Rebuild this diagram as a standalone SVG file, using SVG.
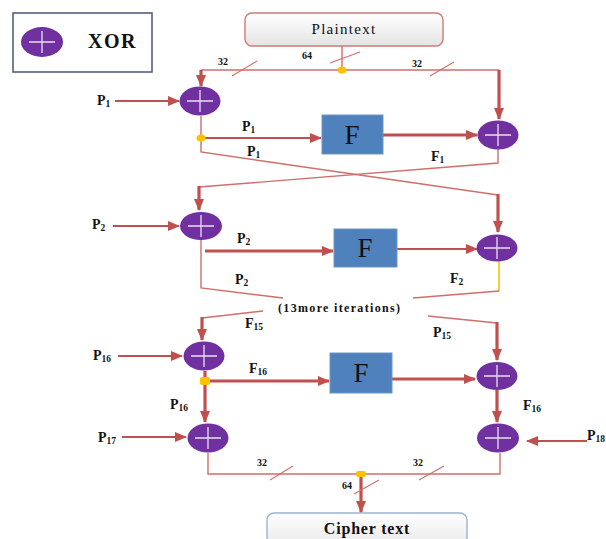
<svg xmlns="http://www.w3.org/2000/svg" width="606" height="539" viewBox="0 0 606 539">
<defs>
<linearGradient id="gbox" x1="0" y1="0" x2="0" y2="1">
<stop offset="0" stop-color="#ffffff"/>
<stop offset="1" stop-color="#e4e4e4"/>
</linearGradient>
<marker id="ah" markerUnits="userSpaceOnUse" markerWidth="12" markerHeight="10" refX="11" refY="5" orient="auto">
<path d="M0,0 L12,5 L0,10 Z" fill="#c0504d"/>
</marker>
</defs>
<style>
.thin{fill:none;stroke:#d06e6b;stroke-width:1.4}
.med{fill:none;stroke:#c0504d;stroke-width:2.2}
.thick{fill:none;stroke:#c0504d;stroke-width:3.2}
.slash{fill:none;stroke:#d06e6b;stroke-width:1.1}
.xor{fill:#7030a0}
.plus{stroke:#e8e0f0;stroke-width:1.3;fill:none}
.fbox{fill:#4f81bd;stroke:#6d96c8;stroke-width:1}
.ftxt{font-family:"Liberation Serif",serif;font-size:27px;fill:#111;text-anchor:middle}
.lbl{font-family:"Liberation Serif",serif;font-weight:bold;font-size:14px;fill:#111}
.sub{font-size:9.5px}
.num{font-family:"Liberation Serif",serif;font-weight:bold;font-size:10px;fill:#111}
.dot{fill:#ffc000}
</style>

<g id="legend">
<rect x="13" y="13" width="139" height="59" fill="#fff" stroke="#4a5670" stroke-width="1.5"/>
<ellipse class="xor" cx="42" cy="42" rx="21" ry="15"/>
<path class="plus" d="M29,42 H55 M42,31 V53"/>
<text x="88" y="48" font-family="Liberation Serif, serif" font-weight="bold" font-size="20" letter-spacing="1.5" fill="#111">XOR</text>
</g>

<g id="plaintext">
<rect x="245" y="13" width="198" height="33" rx="7" fill="url(#gbox)" stroke="#d07a78" stroke-width="1.4"/>
<text x="344" y="34" font-family="Liberation Serif, serif" font-size="15" letter-spacing="1.3" fill="#111" text-anchor="middle">Plaintext</text>
</g>

<g id="ciphertext">
<rect x="267" y="513" width="200" height="40" rx="7" fill="url(#gbox)" stroke="#9bb3d6" stroke-width="1.4"/>
<text x="367" y="534" font-family="Liberation Serif, serif" font-weight="bold" font-size="16" letter-spacing="0.8" fill="#111" text-anchor="middle">Cipher text</text>
</g>

<g id="connectors">
<path class="thin" d="M342,46 V70"/>
<path class="thin" d="M201,70 H499"/>
<path class="thick" d="M201,70 V86" marker-end="url(#ah)"/>
<path class="thick" d="M499,70 V119" marker-end="url(#ah)"/>
<path class="med" d="M115,101 H179" marker-end="url(#ah)"/>
<path class="thin" d="M201,116 V152 L498,195"/>
<path class="med" d="M201,138 H321" marker-end="url(#ah)"/>
<path class="thick" d="M498,194 V232" marker-end="url(#ah)"/>
<path class="thick" d="M383,135 H477" marker-end="url(#ah)"/>
<path class="thin" d="M498,149 V163 L199,187"/>
<path class="thick" d="M199,186 V210" marker-end="url(#ah)"/>
<path class="med" d="M113,226 H179" marker-end="url(#ah)"/>
<path class="thin" d="M201,240 V288 L283,298"/>
<path class="thick" d="M205,251 H333" marker-end="url(#ah)"/>
<path class="med" d="M397,249 H477" marker-end="url(#ah)"/>
<path fill="none" stroke="#ffc000" stroke-width="1.6" d="M499,255 V291"/>
<path class="thin" d="M499,291 L413,298"/>
<path class="thin" d="M263,311 L202,318"/>
<path class="thick" d="M202,317 V340" marker-end="url(#ah)"/>
<path class="thin" d="M428,316 L497,323"/>
<path class="thick" d="M497,322 V360" marker-end="url(#ah)"/>
<path class="med" d="M118,356 H182" marker-end="url(#ah)"/>
<path class="thick" d="M205,371 V422" marker-end="url(#ah)"/>
<path class="thick" d="M205,381 H329" marker-end="url(#ah)"/>
<path class="thick" d="M392,379 H475" marker-end="url(#ah)"/>
<path class="thick" d="M497,390 V422" marker-end="url(#ah)"/>
<path class="med" d="M122,437 H186" marker-end="url(#ah)"/>
<path class="med" d="M587,441 H527" marker-end="url(#ah)"/>
<path class="thin" d="M208,453 V474 H500 V453"/>
<path class="thick" d="M361,474 V512" marker-end="url(#ah)"/>
<path class="slash" d="M232,76 L257,61 M330,63 L360,52 M430,76 L454,62 M270,480 L293,466 M419,480 L444,466 M354,494 L379,480"/>
<ellipse class="dot" cx="342" cy="70" rx="4.5" ry="3.5"/>
<ellipse class="dot" cx="201" cy="138" rx="4.5" ry="3.5"/>
<rect class="dot" x="200" y="377" width="10" height="8" rx="2"/>
<rect class="dot" x="356" y="471" width="10" height="6" rx="2"/>
</g>

<g id="xor1"><ellipse class="xor" cx="200" cy="101" rx="20.5" ry="14.5"/><path class="plus" d="M187,101 H213 M200,90 V112"/></g>
<g id="xor2"><ellipse class="xor" cx="498" cy="135" rx="20.5" ry="14.5"/><path class="plus" d="M485,135 H511 M498,124 V146"/></g>
<g id="xor3"><ellipse class="xor" cx="201" cy="226" rx="21" ry="14"/><path class="plus" d="M188,226 H214 M201,215 V237"/></g>
<g id="xor4"><ellipse class="xor" cx="497" cy="248" rx="20.5" ry="13.5"/><path class="plus" d="M484,248 H510 M497,237 V259"/></g>
<g id="xor5"><ellipse class="xor" cx="204" cy="356" rx="20.5" ry="14.5"/><path class="plus" d="M191,356 H217 M204,345 V367"/></g>
<g id="xor6"><ellipse class="xor" cx="497" cy="376" rx="20.5" ry="14"/><path class="plus" d="M484,376 H510 M497,365 V387"/></g>
<g id="xor7"><ellipse class="xor" cx="208" cy="438" rx="20.5" ry="14.5"/><path class="plus" d="M195,438 H221 M208,427 V449"/></g>
<g id="xor8"><ellipse class="xor" cx="498" cy="438" rx="21" ry="14.5"/><path class="plus" d="M485,438 H511 M498,427 V449"/></g>

<g id="f1"><rect class="fbox" x="322" y="115" width="61" height="39"/><text class="ftxt" x="352" y="144">F</text></g>
<g id="f2"><rect class="fbox" x="334" y="229" width="63" height="38"/><text class="ftxt" x="365" y="257">F</text></g>
<g id="f3"><rect class="fbox" x="330" y="353" width="62" height="40"/><text class="ftxt" x="361" y="382">F</text></g>

<g id="labels">
<text class="lbl" x="97" y="105">P<tspan class="sub" dy="2">1</tspan></text>
<text class="lbl" x="242" y="131">P<tspan class="sub" dy="2">1</tspan></text>
<text class="lbl" x="247" y="156">P<tspan class="sub" dy="2">1</tspan></text>
<text class="lbl" x="431" y="161">F<tspan class="sub" dy="2">1</tspan></text>
<text class="lbl" x="92" y="229">P<tspan class="sub" dy="2">2</tspan></text>
<text class="lbl" x="237" y="243">P<tspan class="sub" dy="2">2</tspan></text>
<text class="lbl" x="235" y="284">P<tspan class="sub" dy="2">2</tspan></text>
<text class="lbl" x="450" y="283">F<tspan class="sub" dy="2">2</tspan></text>
<text x="278" y="312" font-family="Liberation Serif, serif" font-weight="bold" font-size="12" textLength="122" lengthAdjust="spacing" fill="#111">(13more iterations)</text>
<text class="lbl" x="245" y="328">F<tspan class="sub" dy="2">15</tspan></text>
<text class="lbl" x="433" y="337">P<tspan class="sub" dy="2">15</tspan></text>
<text class="lbl" x="93" y="360">P<tspan class="sub" dy="2">16</tspan></text>
<text class="lbl" x="249" y="373">F<tspan class="sub" dy="2">16</tspan></text>
<text class="lbl" x="170" y="409">P<tspan class="sub" dy="2">16</tspan></text>
<text class="lbl" x="523" y="410">F<tspan class="sub" dy="2">16</tspan></text>
<text class="lbl" x="98" y="442">P<tspan class="sub" dy="2">17</tspan></text>
<text class="lbl" x="587" y="440">P<tspan class="sub" dy="2">18</tspan></text>
<text class="num" x="218" y="65">32</text>
<text class="num" x="302" y="59">64</text>
<text class="num" x="412" y="67">32</text>
<text class="num" x="257" y="466">32</text>
<text class="num" x="413" y="466">32</text>
<text class="num" x="342" y="489">64</text>
</g>
</svg>
